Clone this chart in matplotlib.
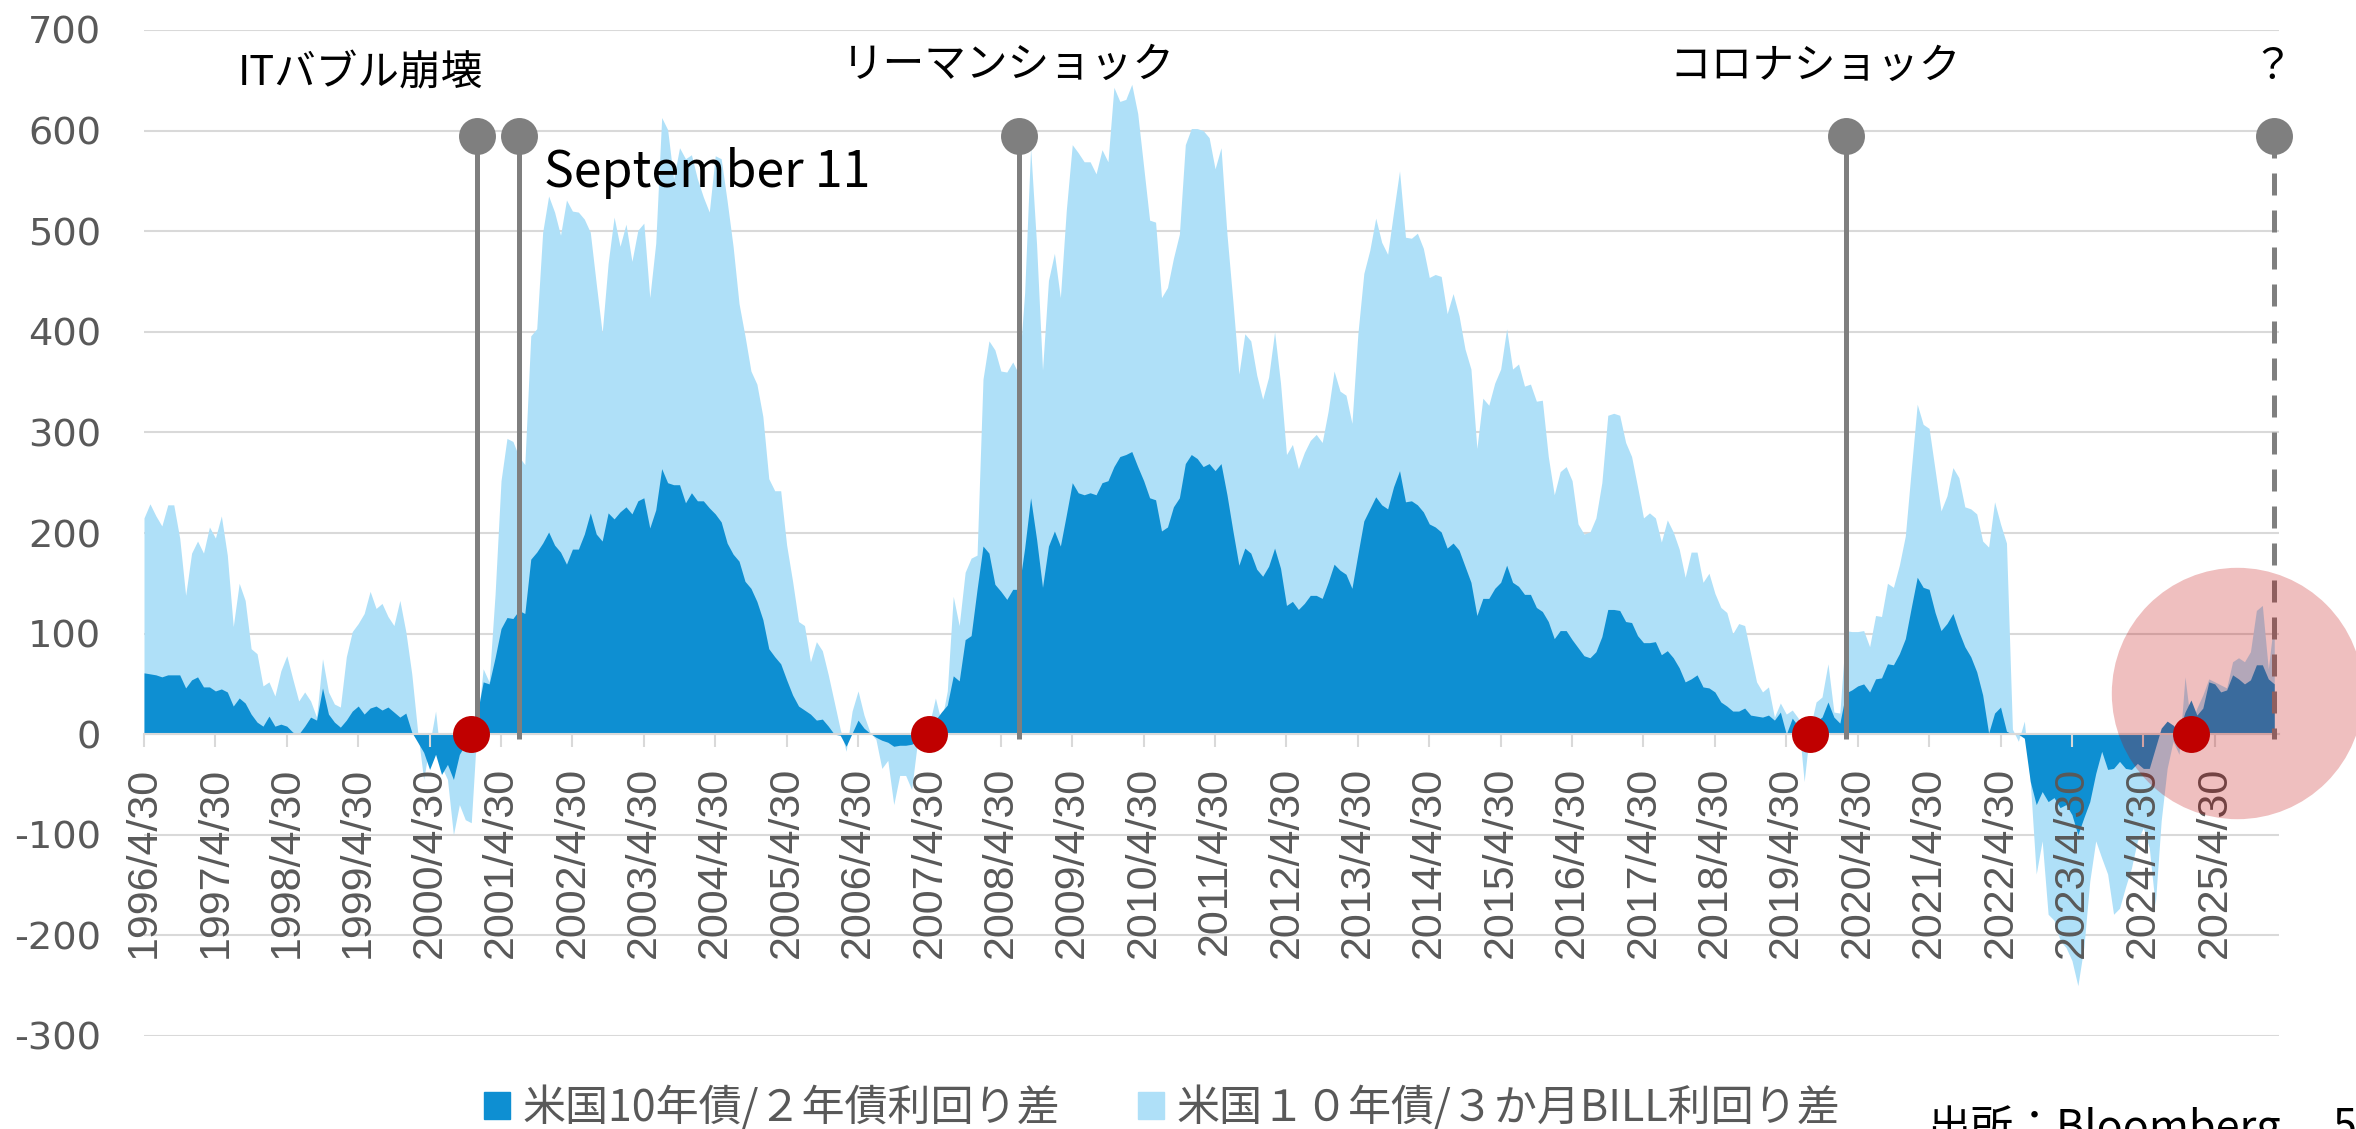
import numpy as np
import matplotlib
matplotlib.use('Agg')
import matplotlib.pyplot as plt
from matplotlib.patches import Patch

plt.rcParams['font.family'] = ['Noto Sans CJK JP', 'DejaVu Sans']

# monthly, 1996/4 .. 2026/2, bp
spread_2y = [
    61, 60, 59, 57, 59, 59, 59, 46, 54, 57, 47, 47,
    43, 45, 42, 28, 36, 31, 20, 12, 8, 18, 8, 10,
    8, 2, 0, 8, 17, 14, 46, 20, 12, 7, 14, 23,
    28, 20, 26, 28, 24, 27, 22, 17, 21, 2, -8, -18,
    -35, -20, -40, -30, -45, -20, -10, -10, 20, 52, 50, 76,
    105, 116, 115, 123, 120, 174, 181, 190, 201, 188, 181, 169,
    184, 184, 199, 220, 199, 192, 220, 214, 221, 226, 219, 232,
    235, 205, 223, 264, 250, 248, 248, 230, 240, 232, 232, 225,
    219, 211, 190, 179, 172, 152, 145, 132, 114, 85, 77, 70,
    54, 39, 28, 24, 20, 14, 15, 8, 0, -1, -12, 1,
    14, 6, 1, -3, -6, -8, -12, -11, -11, -10, -7, -2,
    7, 14, 22, 29, 58, 53, 94, 98, 144, 187, 180, 149,
    142, 134, 144, 144, 185, 235, 194, 146, 187, 202, 187, 218,
    250, 240, 238, 240, 238, 250, 252, 266, 276, 278, 281, 266,
    252, 235, 233, 202, 206, 226, 235, 269, 278, 274, 266, 269,
    262, 269, 238, 202, 168, 185, 180, 164, 157, 167, 185, 165,
    128, 132, 124, 130, 138, 138, 135, 151, 169, 163, 159, 145,
    179, 212, 224, 236, 228, 224, 246, 262, 231, 232, 228, 221,
    209, 206, 201, 185, 190, 183, 167, 151, 118, 135, 135, 145,
    151, 168, 151, 147, 139, 139, 126, 122, 112, 95, 103, 103,
    94, 86, 78, 76, 82, 97, 124, 124, 123, 112, 111, 98,
    91, 91, 92, 79, 83, 76, 66, 52, 55, 59, 47, 46,
    42, 32, 28, 23, 23, 26, 19, 18, 17, 19, 14, 22,
    0, 16, 8, -4, 6, 13, 17, 32, 17, 11, 41, 44,
    48, 50, 42, 55, 56, 70, 69, 80, 95, 126, 156, 146,
    144, 121, 103, 110, 120, 102, 87, 77, 62, 39, 1, 21,
    27, 3, 0, 0, -4, -47, -70, -57, -67, -63, -73, -70,
    -80, -100, -83, -67, -39, -17, -35, -34, -27, -34, -35, -29,
    -34, -34, -14, 6, 13, 9, 3, 22, 34, 19, 26, 52,
    50, 42, 44, 59, 55, 50, 54, 69, 69, 55, 50,
]

spread_3m = [
    215, 229, 217, 207, 228, 228, 195, 138, 180, 192, 180, 206,
    195, 217, 178, 107, 150, 133, 85, 80, 48, 52, 38, 63,
    78, 55, 33, 42, 33, 17, 75, 42, 30, 27, 77, 102,
    110, 120, 142, 125, 130, 117, 108, 133, 102, 60, 2, -45,
    -10, 23, -32, -45, -100, -70, -85, -88, 10, 65, 52, 139,
    252, 294, 291, 276, 268, 396, 403, 499, 535, 519, 496, 531,
    520, 519, 512, 499, 448, 399, 468, 514, 485, 507, 470, 501,
    508, 434, 488, 613, 601, 552, 583, 572, 576, 552, 534, 519,
    575, 572, 530, 485, 428, 396, 361, 348, 316, 254, 242, 242,
    188, 152, 112, 108, 72, 92, 83, 59, 32, 5, -17, 23,
    43, 19, 2, -5, -34, -26, -70, -41, -41, -55, -7, 2,
    10, 36, 12, 43, 137, 108, 161, 175, 178, 353, 391, 382,
    361, 360, 370, 358, 439, 583, 487, 362, 451, 478, 434, 521,
    586, 578, 569, 569, 557, 581, 569, 643, 629, 631, 646, 617,
    564, 511, 509, 434, 444, 473, 497, 586, 602, 602, 600, 593,
    562, 583, 497, 430, 358, 398, 391, 357, 333, 355, 400, 349,
    278, 288, 264, 280, 292, 298, 290, 321, 361, 341, 337, 309,
    398, 458, 481, 513, 489, 477, 519, 560, 494, 493, 498, 483,
    454, 457, 455, 418, 438, 416, 383, 363, 284, 334, 327, 349,
    363, 403, 363, 368, 346, 348, 331, 332, 276, 238, 261, 266,
    252, 209, 199, 201, 215, 250, 317, 319, 317, 290, 276, 246,
    215, 220, 215, 191, 213, 201, 184, 156, 181, 181, 151, 160,
    140, 126, 121, 100, 110, 108, 80, 52, 42, 47, 17, 31,
    20, 24, 16, -47, 6, 32, 37, 70, 22, 21, 103, 102,
    102, 103, 87, 118, 117, 150, 146, 168, 197, 263, 328, 308,
    304, 263, 222, 237, 265, 255, 226, 224, 219, 192, 186, 231,
    209, 190, 5, -7, 13, -47, -139, -106, -179, -185, -205, -212,
    -225, -250, -212, -146, -106, -123, -139, -179, -173, -152, -133, -106,
    -93, -113, -170, -86, -34, -7, -20, 57, 9, 26, 39, 55,
    52, 49, 46, 72, 76, 72, 82, 123, 128, 65, 115,
]

legend_labels = ['米国10年債/２年債利回り差', '米国１０年債/３か月BILL利回り差']
tick_years = list(range(1996, 2026))
tick_labels = [f'{y}/4/30' for y in tick_years]
tick_months = [(y - 1996) * 12 for y in tick_years]

events = ['ITバブル崩壊', 'September 11', 'リーマンショック', 'コロナショック', '？']
event_months = [56, 63, 147, 286, 358]
event_text_pos = [(36.3, 656), (67.2, 558), (145.2, 665), (280.8, 664), (357.6, 663)]
inversion_end = [55, 132, 280, 344]
highlight = (351.7, 41)

DARK = '#0E8FD2'
LIGHT = '#AFE0F8'
GRAY = '#7F7F7F'
RED = '#C00000'
GRID = '#D9D9D9'
TXT = '#595959'

W, H = 2356, 1129
fig = plt.figure(figsize=(W / 100, H / 100), dpi=100)
ax = fig.add_axes([144 / W, 93 / H, 2135 / W, 1006 / H])

x = np.arange(len(spread_2y))
ax.fill_between(x, 0, spread_3m, color=LIGHT, lw=0, zorder=1)
ax.fill_between(x, 0, spread_2y, color=DARK, lw=0, zorder=1.2)

yticks = list(range(-300, 800, 100))
for yv in yticks:
    ax.axhline(yv, color=GRID, lw=1.5, zorder=0.5)

# event markers (pins)
for i, m in enumerate(event_months):
    ls = (0, (4.4, 3)) if i == len(event_months) - 1 else '-'
    ax.plot([m, m], [595, -5], color=GRAY, lw=3.6, ls=ls, zorder=3, solid_capstyle='butt')
    ax.plot(m, 595, 'o', ms=26.6, color=GRAY, mec='none', zorder=3.1, clip_on=False)

for name, (lx, ly) in zip(events, event_text_pos):
    if name == 'September 11':
        ax.text(lx, ly, name, ha='left', va='center', fontsize=36, color='black', zorder=7)
    else:
        ax.text(lx, ly, name, ha='center', va='center', fontsize=30, color='black', zorder=7)

# highlight circle + inversion-end dots
ax.plot(*highlight, 'o', ms=181, color=RED, alpha=0.25, mec='none', zorder=5, clip_on=False)
ax.plot(inversion_end, [0] * len(inversion_end), 'o', ms=26.6, color=RED, mec='none',
        zorder=6, clip_on=False)

ax.set_xlim(0, 358.8)
ax.set_ylim(-300, 700)
for s in ['top', 'right', 'left']:
    ax.spines[s].set_visible(False)
ax.spines['bottom'].set_position(('data', 0))
ax.spines['bottom'].set_color(GRID)
ax.spines['bottom'].set_linewidth(1.5)

ax.set_xticks(tick_months)
ax.set_xticklabels(tick_labels, rotation=90, fontsize=31, color=TXT, fontfamily='Liberation Sans')
ax.tick_params(axis='x', length=9.4, width=1.5, color=GRID, pad=14)
ax.set_yticks(yticks)
ax.set_yticklabels([str(v) for v in yticks], fontsize=27.6, color=TXT, fontfamily='DejaVu Sans')
ax.tick_params(axis='y', length=0, pad=31)

handles = [Patch(color=DARK), Patch(color=LIGHT)]
fig.legend(handles, legend_labels, loc='upper left', bbox_to_anchor=(484 / W, 1 - 1086 / H),
           ncol=2, frameon=False, fontsize=31, handlelength=0.6, handleheight=0.6,
           handletextpad=0.3, columnspacing=1.8, borderpad=0, borderaxespad=0,
           labelcolor=TXT)

fig.text(1927 / W, 1 - 1106 / H, '出所：Bloomberg', ha='left', va='top', fontsize=31, color='black')
fig.text(2333 / W, 1 - 1106 / H, '5', ha='left', va='top', fontsize=31, color='black')

fig.savefig('out.png', dpi=100)
